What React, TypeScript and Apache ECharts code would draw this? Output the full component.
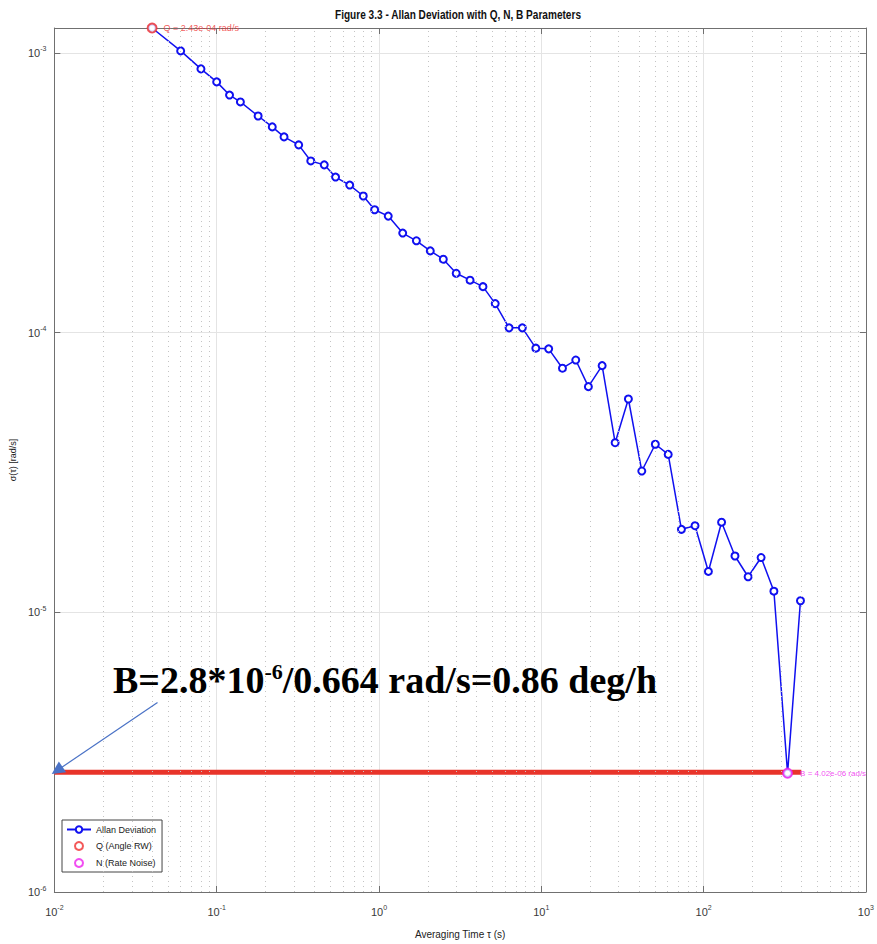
import React, { useEffect, useRef } from 'react';
import * as echarts from 'echarts';

// Allan deviation data (tau in s, sigma in rad/s)
const tau = [0.04, 0.06, 0.08, 0.10, 0.12, 0.14, 0.18, 0.22, 0.26, 0.32, 0.38, 0.46, 0.54, 0.66, 0.80, 0.94, 1.14, 1.40, 1.70, 2.07, 2.49, 2.99, 3.64, 4.37, 5.20, 6.33, 7.64, 9.25, 11.1, 13.5, 16.3, 19.5, 23.7, 28.5, 34.4, 41.6, 50.4, 60.5, 73.0, 88.5, 107, 129, 156, 188, 226, 271, 329, 395];
const adev = [1.228e-3, 1.017e-3, 8.77e-4, 7.88e-4, 7.07e-4, 6.68e-4, 5.95e-4, 5.44e-4, 5.01e-4, 4.69e-4, 4.11e-4, 3.98e-4, 3.60e-4, 3.37e-4, 3.08e-4, 2.75e-4, 2.61e-4, 2.27e-4, 2.13e-4, 1.96e-4, 1.83e-4, 1.63e-4, 1.54e-4, 1.46e-4, 1.27e-4, 1.04e-4, 1.04e-4, 8.80e-5, 8.75e-5, 7.46e-5, 7.98e-5, 6.41e-5, 7.62e-5, 4.04e-5, 5.79e-5, 3.20e-5, 3.99e-5, 3.67e-5, 1.98e-5, 2.04e-5, 1.40e-5, 2.10e-5, 1.59e-5, 1.34e-5, 1.57e-5, 1.19e-5, 2.66e-6, 1.10e-5];

// Parameter points
const qPoint = [0.04, 1.228e-3];
const qLabel = 'Q = 2.43e-04 rad/s';
const nPoint = [329, 2.66e-6];
const nLabel = 'B = 4.02e-06 rad/s';

// Annotation: horizontal bias line and arrow
const bLevel = 2.68e-6;
const bLineTau = [0.01, 400];
const arrowFrom = [0.0432, 4.76e-6];
const arrowTo = [0.0104, 2.72e-6];
const bigText = 'B=2.8*10{sup|-6}/0.664 rad/s=0.86 deg/h';

// Axes
const xMin = 0.01;
const xMax = 1000;
const yMin = 1e-6;
const yMax = 1.228e-3;
const xDecades = [0.01, 0.1, 1, 10, 100];
const yDecades = [1e-6, 1e-5, 1e-4, 1e-3];
const minorMult = [2, 3, 4, 5, 6, 7, 8, 9];

const titleText = 'Figure 3.3 - Allan Deviation with Q, N, B Parameters';
const xName = 'Averaging Time \u03c4 (s)';
const yName = '\u03c3(\u03c4) [rad/s]';

const SANS = '"Liberation Sans", Arial, sans-serif';

export default function App() {
  const ref = useRef<HTMLDivElement>(null);

  useEffect(() => {
    document.body.style.margin = '0';
    if (!ref.current) return;
    const chart = echarts.init(ref.current, undefined, { renderer: 'svg' });

    const minorX: number[] = [];
    xDecades.forEach((d) => minorMult.forEach((m) => minorX.push(d * m)));
    const minorY: number[] = [];
    yDecades.forEach((d) => minorMult.forEach((m) => { if (d * m < yMax) minorY.push(d * m); }));

    const fmt = (v: number) => `{b|10}{s|${Math.round(Math.log10(v))}}`;
    const rich = {
      b: { fontSize: 11, color: '#3a3a3a', fontFamily: SANS },
      s: { fontSize: 7, color: '#3a3a3a', fontFamily: SANS, verticalAlign: 'top', padding: [0, 0, 8, 0] },
    };

    const axisLine = { show: true, lineStyle: { color: '#707070', width: 1 } };
    const axisTick = { show: true, inside: true, length: 6, lineStyle: { color: '#707070' } };
    const splitLine = { show: true, lineStyle: { color: '#e4e4e4', width: 1 } };

    const data = tau.map((t, i) => [t, adev[i]]);

    chart.setOption({
      animation: false,
      backgroundColor: '#ffffff',
      grid: { left: 49, right: 10, top: 28, bottom: 52, show: false },
      legend: {
        data: ['Allan Deviation', 'Q (Angle RW)', 'N (Rate Noise)'],
        orient: 'vertical',
        left: 62,
        top: 820,
        itemWidth: 24,
        itemHeight: 8,
        itemGap: 7,
        padding: [5, 6, 4, 4],
        borderColor: '#444',
        borderWidth: 1,
        backgroundColor: '#fff',
        textStyle: { fontSize: 9, color: '#222', fontFamily: SANS },
      },
      xAxis: [
        {
          type: 'log', logBase: 10, min: xMin, max: xMax, splitNumber: 5,
          position: 'bottom',
          name: xName, nameLocation: 'middle', nameGap: 37,
          nameTextStyle: { fontSize: 10, color: '#222', fontFamily: SANS },
          axisLine, axisTick, splitLine,
          axisLabel: { formatter: fmt, rich, margin: 12 },
        },
        {
          type: 'log', logBase: 10, min: xMin, max: xMax, splitNumber: 5,
          position: 'top',
          axisLine, axisTick, splitLine: { show: false }, axisLabel: { show: false },
        },
      ],
      yAxis: [
        {
          type: 'log', logBase: 10, min: yMin, max: yMax, splitNumber: 3,
          position: 'left',
          name: yName, nameLocation: 'middle', nameGap: 34,
          nameTextStyle: { fontSize: 9, color: '#222', fontFamily: SANS },
          axisLine, axisTick, splitLine,
          axisLabel: { formatter: fmt, rich, margin: 8, showMaxLabel: false },
        },
        {
          type: 'log', logBase: 10, min: yMin, max: yMax, splitNumber: 3,
          position: 'right',
          axisLine, axisTick, splitLine: { show: false }, axisLabel: { show: false },
        },
      ],
      graphic: [
        {
          type: 'text',
          x: 458,
          y: 15,
          scaleX: 0.84,
          style: {
            text: titleText,
            fill: '#111',
            align: 'center',
            verticalAlign: 'middle',
            font: 'bold 12px "Liberation Sans", Arial, sans-serif',
          },
          z: 100,
        },
        {
          type: 'text',
          left: 113,
          top: 660,
          style: {
            text: bigText,
            fill: '#000',
            font: 'bold 38px "Liberation Serif", "Times New Roman", serif',
            rich: {
              sup: { fontSize: 22, fontWeight: 'bold', fontFamily: '"Liberation Serif", serif', verticalAlign: 'top', padding: [0, 0, 18, 0], fill: '#000' },
            },
          },
          z: 100,
        },
      ],
      series: [
        {
          type: 'line',
          name: 'minorGrid',
          data: [],
          silent: true,
          z: 0,
          markLine: {
            silent: true,
            symbol: 'none',
            label: { show: false },
            lineStyle: { type: [1, 4], color: '#c4c4c4', width: 1 },
            data: [
              ...minorX.map((v) => ({ xAxis: v })),
              ...minorY.map((v) => ({ yAxis: v })),
            ],
          },
        },
        {
          type: 'line',
          name: 'biasLine',
          data: bLineTau.map((t) => [t, bLevel]),
          symbol: 'none',
          silent: true,
          z: 3,
          lineStyle: { color: '#e8342a', width: 5 },
        },
        {
          type: 'line',
          name: 'Allan Deviation',
          data,
          clip: false,
          z: 4,
          symbol: 'emptyCircle',
          symbolSize: 7,
          color: '#1010f0',
          lineStyle: { color: '#1010f0', width: 1.5 },
          itemStyle: { color: '#1010f0', borderColor: '#1010f0', borderWidth: 1.3 },
        },
        {
          type: 'scatter',
          name: 'Q (Angle RW)',
          data: [qPoint],
          clip: false,
          z: 5,
          symbol: 'emptyCircle',
          symbolSize: 9,
          itemStyle: { color: '#f03030', borderColor: '#f03030', borderWidth: 2 },
          label: {
            show: true, position: 'right', distance: 6, formatter: qLabel,
            color: '#f03030', fontSize: 9, fontFamily: SANS,
          },
        },
        {
          type: 'scatter',
          name: 'N (Rate Noise)',
          data: [nPoint],
          clip: false,
          z: 5,
          symbol: 'emptyCircle',
          symbolSize: 9,
          itemStyle: { color: '#ee22ee', borderColor: '#ee22ee', borderWidth: 2 },
          label: {
            show: true, position: 'right', distance: 7, formatter: nLabel,
            color: '#ee22ee', fontSize: 8, fontFamily: SANS,
          },
        },
        {
          type: 'line',
          name: 'arrow',
          data: [],
          silent: true,
          z: 6,
          markLine: {
            silent: true,
            symbol: ['none', 'triangle'],
            symbolSize: 13,
            label: { show: false },
            lineStyle: { type: 'solid', color: '#4a72c6', width: 1.2 },
            data: [[{ coord: arrowFrom }, { coord: arrowTo }]],
          },
        },
      ],
    });

    return () => chart.dispose();
  }, []);

  return <div ref={ref} style={{ width: 877, height: 944 }} />;
}
